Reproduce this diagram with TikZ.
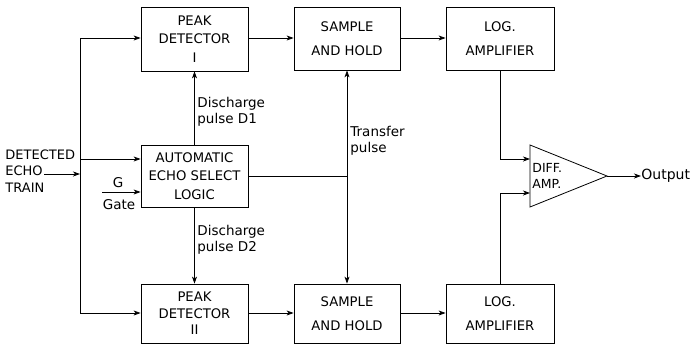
\documentclass[tikz,border=0pt]{standalone}
\usepackage{fontspec}
\setmainfont{DejaVu Sans}
\usetikzlibrary{arrows.meta}
\begin{document}
\begin{tikzpicture}[x=1pt,y=-1pt,
  line width=0.8pt,
  >={Stealth[length=7pt,width=5pt,inset=2pt]},
  blk/.style={draw,rectangle,minimum width=107pt,align=center,inner sep=0pt,
    font=\fontsize{13.2}{18.5}\selectfont},
  blkb/.style={blk,font=\fontsize{13.2}{24}\selectfont},
  lbl/.style={font=\fontsize{13.5}{16}\selectfont,align=left,inner sep=0pt}]
\useasboundingbox (0,0) rectangle (699,343);
% blocks
\node[blk,minimum height=64pt] (pd1) at (194.5,39) {PEAK\\DETECTOR\\I};
\node[blkb,minimum height=63pt,minimum width=106pt] (sh1) at (347,38.5) {SAMPLE\\AND HOLD};
\node[blkb,minimum height=63pt,minimum width=108pt] (log1) at (500,38.5) {LOG.\\AMPLIFIER};
\node[blk,minimum height=62pt] (aesl) at (194.5,176) {AUTOMATIC\\ECHO SELECT\\LOGIC};
\node[blk,minimum height=59pt,font=\fontsize{13.2}{16.5}\selectfont] (pd2) at (194.5,313.5) {PEAK\\DETECTOR\\II};
\node[blkb,minimum height=59pt,minimum width=106pt] (sh2) at (347,313.5) {SAMPLE\\AND HOLD};
\node[blkb,minimum height=59pt,minimum width=108pt] (log2) at (500,313.5) {LOG.\\AMPLIFIER};
% differential amplifier
\coordinate (ta) at (530,145);
\coordinate (tb) at (530,207);
\coordinate (tc) at (607,176);
\draw (ta) -- (tc) -- (tb) -- cycle;
\node[lbl,anchor=west,font=\fontsize{12.5}{16}\selectfont] (diff) at (532,176) {DIFF.\\AMP.};
\node[lbl,anchor=west,font=\fontsize{14}{16}\selectfont] (out) at (641,176) {Output};
\draw[->] (tc) -- (out.west);
% input side
\node[lbl,anchor=north west,font=\fontsize{13}{16.5}\selectfont] (det) at (5,149) {DETECTED\\ECHO\\TRAIN};
\coordinate (bus1) at (80,38);
\coordinate (bus2) at (80,159);
\coordinate (bus3) at (80,313);
\coordinate (echo) at (44,174);
\draw (bus1) -- (bus3);
\draw[->] (echo) -- (echo -| bus1);
\draw[->] (bus1) -- (pd1.west |- bus1);
\draw[->] (bus2) -- (aesl.west |- bus2);
\draw[->] (bus3) -- (pd2.west |- bus3);
% gate
\coordinate (gs) at (102,192);
\draw[->] (gs) -- (aesl.west |- gs);
\node[lbl,anchor=center] (g) at (118,183) {G};
\node[lbl,anchor=center] (gate) at (119,205) {Gate};
% forward chain
\draw[->] (pd1.east |- bus1) -- (sh1.west |- bus1);
\draw[->] (sh1.east |- bus1) -- (log1.west |- bus1);
\draw[->] (pd2.east |- bus3) -- (sh2.west |- bus3);
\draw[->] (sh2.east |- bus3) -- (log2.west |- bus3);
% discharge pulses
\draw[->] (aesl.north) -- (pd1.south);
\draw[->] (aesl.south) -- (pd2.north);
\node[lbl,anchor=north west] (d1) at (197,97) {Discharge\\pulse D1};
\node[lbl,anchor=north west] (d2) at (197,225) {Discharge\\pulse D2};
% transfer pulse
\coordinate (tr) at (347,176);
\draw (aesl.east |- tr) -- (tr);
\draw[->] (tr) -- (sh1.south);
\draw[->] (tr) -- (sh2.north);
\node[lbl,anchor=north west] (tp) at (350,126) {Transfer\\pulse};
% log amp to diff amp
\coordinate (in1) at (530,159);
\coordinate (in2) at (530,193);
\draw[->] (log1.south) |- (in1);
\draw[->] (log2.north) |- (in2);
\end{tikzpicture}
\end{document}
